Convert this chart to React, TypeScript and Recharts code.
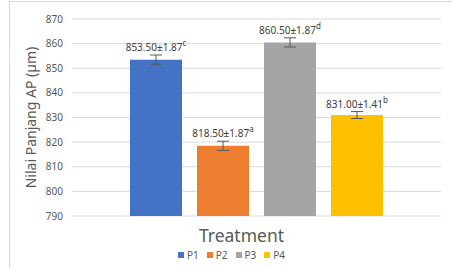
import { BarChart, Bar, XAxis, YAxis, CartesianGrid, ErrorBar, LabelList, Legend } from "recharts";

const series = ["P1", "P2", "P3", "P4"];
const values = [853.5, 818.5, 860.5, 831.0];
const errors = [1.87, 1.87, 1.87, 1.41];
const letters = ["c", "a", "d", "b"];
const colors = ["#4472C4", "#ED7D31", "#A5A5A5", "#FFC000"];
const yTicks = [790, 800, 810, 820, 830, 840, 850, 860, 870];

const row: any = { name: "Treatment" };
series.forEach((s, i) => {
  row[s] = values[i];
  row[s + "_err"] = errors[i];
});
const data = [row];

const font = "'Noto Sans', 'Open Sans', sans-serif";

function makeLabel(i: number) {
  return (props: any) => {
    const { x, y, width, height } = props;
    const ppu = height / (values[i] - 790);
    const top = y - errors[i] * ppu;
    return (
      <text
        x={x + width / 2}
        y={top - 4}
        textAnchor="middle"
        fontSize={10}
        fill="#404040"
        fontFamily={font}
      >
        {values[i].toFixed(2) + "±" + errors[i].toFixed(2)}
        <tspan fontSize={8} dy={-5}>{letters[i]}</tspan>
      </text>
    );
  };
}

function LegendBox() {
  return (
    <div style={{ display: "flex", justifyContent: "center", gap: 8, fontFamily: font, fontSize: 10, color: "#595959", marginLeft: 22 }}>
      {series.map((s, i) => (
        <span key={s} style={{ display: "flex", alignItems: "center" }}>
          <span style={{ width: 6, height: 6, background: colors[i], marginRight: 3, display: "inline-block" }} />
          {s}
        </span>
      ))}
    </div>
  );
}

export default function App() {
  return (
    <div style={{ position: "absolute", left: 0, top: 0, width: 452, height: 268, background: "#fff", overflow: "hidden" }}>
      <div style={{ position: "absolute", left: 9, top: 1, width: 460, height: 280, borderLeft: "1px solid #d9d9d9", borderTop: "1px solid #d9d9d9" }} />
      <BarChart width={452} height={268} data={data} margin={{ top: 19, right: 11, left: 0, bottom: 4 }} barSize={52} barGap={15}>
        <CartesianGrid vertical={false} stroke="#d9d9d9" />
        <XAxis
          dataKey="name"
          tick={false}
          axisLine={false}
          tickLine={false}
          height={32}
          label={{ value: "Treatment", position: "insideTop", dx: -15, dy: 9, fontSize: 17.5, fill: "#595959", fontFamily: font }}
        />
        <YAxis
          domain={[790, 870]}
          ticks={yTicks}
          width={72}
          axisLine={false}
          tickLine={false}
          tickSize={0}
          tickMargin={9}
          tick={{ fontSize: 10, fill: "#595959", fontFamily: font }}
          label={{ value: "Nilai Panjang AP (µm)", angle: -90, position: "insideLeft", offset: 31, fontSize: 14, fill: "#595959", fontFamily: font, style: { textAnchor: "middle" } }}
        />
        <Legend verticalAlign="bottom" height={16} content={() => <LegendBox />} />
        {series.map((s, i) => (
          <Bar key={s} dataKey={s} fill={colors[i]} isAnimationActive={false}>
            <ErrorBar dataKey={s + "_err"} width={6} stroke="#595959" strokeWidth={1} />
            <LabelList content={makeLabel(i)} />
          </Bar>
        ))}
      </BarChart>
    </div>
  );
}
